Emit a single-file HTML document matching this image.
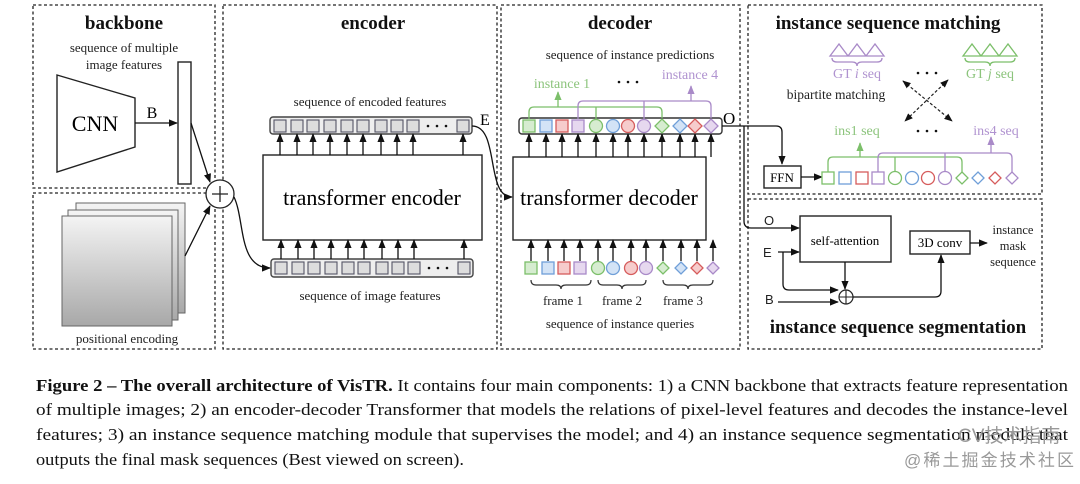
<!DOCTYPE html>
<html><head><meta charset="utf-8"><style>
html,body{margin:0;padding:0;background:#fff;}
svg{display:block;}
text{font-family:"Liberation Serif",serif;}
</style></head><body>
<svg width="1080" height="484" viewBox="0 0 1080 484" xmlns="http://www.w3.org/2000/svg">
<defs>
<marker id="a" viewBox="0 0 10 10" refX="9" refY="5" markerWidth="7" markerHeight="7" orient="auto-start-reverse"><path d="M0,1 L10,5 L0,9 z" fill="#111"/></marker>
<marker id="ag" viewBox="0 0 10 10" refX="9" refY="5" markerWidth="7" markerHeight="7" orient="auto"><path d="M0,1 L10,5 L0,9 z" fill="#7cbf6a"/></marker>
<marker id="ap" viewBox="0 0 10 10" refX="9" refY="5" markerWidth="7" markerHeight="7" orient="auto"><path d="M0,1 L10,5 L0,9 z" fill="#a98ac8"/></marker>
<linearGradient id="pg" x1="0" y1="0" x2="0" y2="1"><stop offset="0" stop-color="#f4f4f4"/><stop offset="1" stop-color="#a8a8a8"/></linearGradient>
</defs>
<g fill="none" stroke="#222" stroke-width="1.3" stroke-dasharray="3,2.5">
<rect x="33" y="5" width="182" height="183"/>
<rect x="33" y="193" width="182" height="156"/>
<rect x="223" y="5" width="274" height="344"/>
<rect x="501" y="5" width="239" height="344"/>
<rect x="748" y="5" width="294" height="189"/>
<rect x="748" y="199" width="294" height="150"/>
</g>
<g font-weight="bold" font-size="19" text-anchor="middle" fill="#111">
<text x="124" y="29">backbone</text>
<text x="373" y="29">encoder</text>
<text x="620" y="29">decoder</text>
<text x="888" y="29">instance sequence matching</text>
<text x="898" y="333">instance sequence segmentation</text>
</g>
<g font-size="13" text-anchor="middle" fill="#222">
<text x="124" y="52">sequence of multiple</text>
<text x="124" y="69">image features</text>
<text x="127" y="343">positional encoding</text>
<text x="370" y="106">sequence of encoded features</text>
<text x="370" y="300">sequence of image features</text>
<text x="630" y="59">sequence of instance predictions</text>
<text x="620" y="328">sequence of instance queries</text>
<text x="563" y="305">frame 1</text>
<text x="622" y="305">frame 2</text>
<text x="683" y="305">frame 3</text>
</g>
<path d="M57,75 L135,98 L135,147 L57,172 Z" fill="#fff" stroke="#222" stroke-width="1.4"/>
<text x="95" y="131" font-size="22" text-anchor="middle">CNN</text>
<text x="152" y="118" font-size="16" text-anchor="middle">B</text>
<line x1="135" y1="123" x2="177" y2="123" stroke="#111" stroke-width="1.3" marker-end="url(#a)"/>
<rect x="178" y="62" width="13" height="122" fill="#fff" stroke="#222" stroke-width="1.4"/>
<rect x="76" y="203" width="109" height="110" fill="url(#pg)" stroke="#666"/>
<rect x="68" y="210" width="110" height="110" fill="url(#pg)" stroke="#666"/>
<rect x="62" y="216" width="110" height="110" fill="url(#pg)" stroke="#666"/>
<circle cx="220" cy="194" r="14" fill="#fff" stroke="#222" stroke-width="1.3"/>
<path d="M212,194 H228 M220,186 V202" stroke="#222" stroke-width="1.3"/>
<line x1="191" y1="123" x2="210" y2="182" stroke="#111" stroke-width="1.3" marker-end="url(#a)"/>
<line x1="185" y1="256" x2="210" y2="206" stroke="#111" stroke-width="1.3" marker-end="url(#a)"/>
<path d="M234,197 C245,220 238,268 270,268" fill="none" stroke="#111" stroke-width="1.3" marker-end="url(#a)"/>
<rect x="270" y="117" width="202" height="17" rx="3" fill="#eee" stroke="#444" stroke-width="1.4"/>
<rect x="271" y="259" width="202" height="18" rx="3" fill="#eee" stroke="#444" stroke-width="1.4"/>
<rect x="263" y="155" width="219" height="85" fill="#fff" stroke="#222" stroke-width="1.4"/>
<text x="372" y="205" font-size="22" text-anchor="middle">transformer encoder</text>
<g fill="#ddd" stroke="#556" stroke-width="1.1">
<rect x="274" y="120" width="12" height="12"/><rect x="291" y="120" width="12" height="12"/><rect x="307" y="120" width="12" height="12"/><rect x="324" y="120" width="12" height="12"/><rect x="341" y="120" width="12" height="12"/><rect x="357" y="120" width="12" height="12"/><rect x="375" y="120" width="12" height="12"/><rect x="391" y="120" width="12" height="12"/><rect x="407" y="120" width="12" height="12"/><rect x="457" y="120" width="12" height="12"/>
<rect x="275" y="262" width="12" height="12"/><rect x="292" y="262" width="12" height="12"/><rect x="308" y="262" width="12" height="12"/><rect x="325" y="262" width="12" height="12"/><rect x="342" y="262" width="12" height="12"/><rect x="358" y="262" width="12" height="12"/><rect x="376" y="262" width="12" height="12"/><rect x="392" y="262" width="12" height="12"/><rect x="408" y="262" width="12" height="12"/><rect x="458" y="262" width="12" height="12"/>
</g>
<g fill="#111"><circle cx="428" cy="126" r="1.3"/><circle cx="437" cy="126" r="1.3"/><circle cx="446" cy="126" r="1.3"/><circle cx="429" cy="268" r="1.3"/><circle cx="438" cy="268" r="1.3"/><circle cx="447" cy="268" r="1.3"/></g>
<g stroke="#111" stroke-width="1.3" marker-end="url(#a)">
<line x1="280" y1="155" x2="280" y2="134"/><line x1="297" y1="155" x2="297" y2="134"/><line x1="313" y1="155" x2="313" y2="134"/><line x1="330" y1="155" x2="330" y2="134"/><line x1="347" y1="155" x2="347" y2="134"/><line x1="363" y1="155" x2="363" y2="134"/><line x1="381" y1="155" x2="381" y2="134"/><line x1="397" y1="155" x2="397" y2="134"/><line x1="413" y1="155" x2="413" y2="134"/><line x1="463" y1="155" x2="463" y2="134"/>
<line x1="281" y1="259" x2="281" y2="240"/><line x1="298" y1="259" x2="298" y2="240"/><line x1="314" y1="259" x2="314" y2="240"/><line x1="331" y1="259" x2="331" y2="240"/><line x1="348" y1="259" x2="348" y2="240"/><line x1="364" y1="259" x2="364" y2="240"/><line x1="382" y1="259" x2="382" y2="240"/><line x1="398" y1="259" x2="398" y2="240"/><line x1="414" y1="259" x2="414" y2="240"/><line x1="464" y1="259" x2="464" y2="240"/>
</g>
<text x="480" y="125" font-size="16">E</text>
<path d="M472,126 C500,126 485,197 512,197" fill="none" stroke="#111" stroke-width="1.3" marker-end="url(#a)"/>
<rect x="519" y="118" width="203" height="16" rx="3" fill="#fff" stroke="#333" stroke-width="1.4"/>
<rect x="513" y="157" width="193" height="83" fill="#fff" stroke="#222" stroke-width="1.4"/>
<text x="609" y="205" font-size="22" text-anchor="middle">transformer decoder</text>
<g stroke="#111" stroke-width="1.3" marker-end="url(#a)">
<line x1="529" y1="157" x2="529" y2="134"/><line x1="546" y1="157" x2="546" y2="134"/><line x1="562" y1="157" x2="562" y2="134"/><line x1="578" y1="157" x2="578" y2="134"/><line x1="596" y1="157" x2="596" y2="134"/><line x1="613" y1="157" x2="613" y2="134"/><line x1="628" y1="157" x2="628" y2="134"/><line x1="644" y1="157" x2="644" y2="134"/><line x1="662" y1="157" x2="662" y2="134"/><line x1="680" y1="157" x2="680" y2="134"/><line x1="695" y1="157" x2="695" y2="134"/><line x1="711" y1="157" x2="711" y2="134"/>
<line x1="531" y1="261" x2="531" y2="240"/><line x1="548" y1="261" x2="548" y2="240"/><line x1="564" y1="261" x2="564" y2="240"/><line x1="580" y1="261" x2="580" y2="240"/><line x1="598" y1="261" x2="598" y2="240"/><line x1="613" y1="261" x2="613" y2="240"/><line x1="631" y1="261" x2="631" y2="240"/><line x1="646" y1="261" x2="646" y2="240"/><line x1="663" y1="261" x2="663" y2="240"/><line x1="681" y1="261" x2="681" y2="240"/><line x1="697" y1="261" x2="697" y2="240"/><line x1="713" y1="261" x2="713" y2="240"/>
</g>
<g stroke-width="1.3">
<rect x="523" y="120" width="12" height="12" fill="#d6ecd0" stroke="#7cbf6a"/>
<rect x="540" y="120" width="12" height="12" fill="#d3e3f6" stroke="#6f9fd8"/>
<rect x="556" y="120" width="12" height="12" fill="#f6cccc" stroke="#d65c5c"/>
<rect x="572" y="120" width="12" height="12" fill="#e6d8ef" stroke="#a98ac8"/>
<circle cx="596" cy="126" r="6.5" fill="#d6ecd0" stroke="#7cbf6a"/>
<circle cx="613" cy="126" r="6.5" fill="#d3e3f6" stroke="#6f9fd8"/>
<circle cx="628" cy="126" r="6.5" fill="#f6cccc" stroke="#d65c5c"/>
<circle cx="644" cy="126" r="6.5" fill="#e6d8ef" stroke="#a98ac8"/>
<path d="M662,119 l7,7 l-7,7 l-7,-7z" fill="#d6ecd0" stroke="#7cbf6a"/>
<path d="M680,119 l7,7 l-7,7 l-7,-7z" fill="#d3e3f6" stroke="#6f9fd8"/>
<path d="M695,119 l7,7 l-7,7 l-7,-7z" fill="#f6cccc" stroke="#d65c5c"/>
<path d="M711,119 l7,7 l-7,7 l-7,-7z" fill="#e6d8ef" stroke="#a98ac8"/>
<rect x="525" y="262" width="12" height="12" fill="#d6ecd0" stroke="#7cbf6a"/>
<rect x="542" y="262" width="12" height="12" fill="#d3e3f6" stroke="#6f9fd8"/>
<rect x="558" y="262" width="12" height="12" fill="#f6cccc" stroke="#d65c5c"/>
<rect x="574" y="262" width="12" height="12" fill="#e6d8ef" stroke="#a98ac8"/>
<circle cx="598" cy="268" r="6.5" fill="#d6ecd0" stroke="#7cbf6a"/>
<circle cx="613" cy="268" r="6.5" fill="#d3e3f6" stroke="#6f9fd8"/>
<circle cx="631" cy="268" r="6.5" fill="#f6cccc" stroke="#d65c5c"/>
<circle cx="646" cy="268" r="6.5" fill="#e6d8ef" stroke="#a98ac8"/>
<path d="M663,262 l6,6 l-6,6 l-6,-6z" fill="#d6ecd0" stroke="#7cbf6a"/>
<path d="M681,262 l6,6 l-6,6 l-6,-6z" fill="#d3e3f6" stroke="#6f9fd8"/>
<path d="M697,262 l6,6 l-6,6 l-6,-6z" fill="#f6cccc" stroke="#d65c5c"/>
<path d="M713,262 l6,6 l-6,6 l-6,-6z" fill="#e6d8ef" stroke="#a98ac8"/>
</g>
<g fill="none" stroke="#333" stroke-width="1.2">
<path d="M531,280 q0,5 5,5 h20 q5,0 5,4 q0,-4 5,-4 h20 q5,0 5,-5"/>
<path d="M598,280 q0,5 5,5 h14 q5,0 5,4 q0,-4 5,-4 h14 q5,0 5,-5"/>
<path d="M663,280 q0,5 5,5 h15 q5,0 5,4 q0,-4 5,-4 h15 q5,0 5,-5"/>
</g>
<path d="M529,119 V112 q0,-5 5,-5 H657 q5,0 5,5 V118 M596,119 V107" fill="none" stroke="#7cbf6a" stroke-width="1.3"/>
<line x1="558" y1="107" x2="558" y2="92" stroke="#7cbf6a" stroke-width="1.3" marker-end="url(#ag)"/>
<path d="M578,119 V106 q0,-5 5,-5 H706 q5,0 5,5 V118 M644,119 V101" fill="none" stroke="#a98ac8" stroke-width="1.3"/>
<line x1="691" y1="101" x2="691" y2="86" stroke="#a98ac8" stroke-width="1.3" marker-end="url(#ap)"/>
<text x="562" y="88" font-size="14" text-anchor="middle" fill="#8cc47c">instance 1</text>
<text x="690" y="79" font-size="14" text-anchor="middle" fill="#b093d0">instance 4</text>
<g fill="#111"><circle cx="619" cy="82" r="1.3"/><circle cx="628" cy="82" r="1.3"/><circle cx="637" cy="82" r="1.3"/></g>
<text x="723" y="124" font-size="17">O</text>
<path d="M722,126 H776 q6,0 6,6 V164" fill="none" stroke="#111" stroke-width="1.3" marker-end="url(#a)"/>
<path d="M744,126 V221 q0,7 7,7 H799" fill="none" stroke="#111" stroke-width="1.3" marker-end="url(#a)"/>
<rect x="764" y="166" width="37" height="22" fill="#fff" stroke="#222" stroke-width="1.4"/>
<text x="782" y="182" font-size="13" text-anchor="middle">FFN</text>
<line x1="801" y1="177" x2="822" y2="177" stroke="#111" stroke-width="1.3" marker-end="url(#a)"/>
<g stroke-width="1.3" fill="#fff">
<rect x="822" y="172" width="12" height="12" stroke="#7cbf6a"/>
<rect x="839" y="172" width="12" height="12" stroke="#6f9fd8"/>
<rect x="856" y="172" width="12" height="12" stroke="#d65c5c"/>
<rect x="872" y="172" width="12" height="12" stroke="#a98ac8"/>
<circle cx="895" cy="178" r="6.5" stroke="#7cbf6a"/>
<circle cx="912" cy="178" r="6.5" stroke="#6f9fd8"/>
<circle cx="928" cy="178" r="6.5" stroke="#d65c5c"/>
<circle cx="945" cy="178" r="6.5" stroke="#a98ac8"/>
<path d="M962,172 l6,6 l-6,6 l-6,-6z" stroke="#7cbf6a"/>
<path d="M978,172 l6,6 l-6,6 l-6,-6z" stroke="#6f9fd8"/>
<path d="M995,172 l6,6 l-6,6 l-6,-6z" stroke="#d65c5c"/>
<path d="M1012,172 l6,6 l-6,6 l-6,-6z" stroke="#a98ac8"/>
</g>
<path d="M828,172 V162 q0,-5 5,-5 H957 q5,0 5,5 V172 M895,171 V157" fill="none" stroke="#7cbf6a" stroke-width="1.3"/>
<line x1="860" y1="157" x2="860" y2="143" stroke="#7cbf6a" stroke-width="1.3" marker-end="url(#ag)"/>
<path d="M878,172 V158 q0,-5 5,-5 H1007 q5,0 5,5 V172 M945,171 V153" fill="none" stroke="#a98ac8" stroke-width="1.3"/>
<line x1="991" y1="153" x2="991" y2="137" stroke="#a98ac8" stroke-width="1.3" marker-end="url(#ap)"/>
<text x="857" y="135" font-size="14" text-anchor="middle" fill="#8cc47c">ins1 seq</text>
<text x="996" y="135" font-size="14" text-anchor="middle" fill="#b093d0">ins4 seq</text>
<g fill="none" stroke-width="1.3">
<path d="M830,56 l9,-12 l9,12z M848,56 l9,-12 l9,12z M866,56 l9,-12 l9,12z" stroke="#a98ac8"/>
<path d="M832,58 q0,4 5,4 h15 q5,0 5,4 q0,-4 5,-4 h15 q5,0 5,-4" stroke="#a98ac8"/>
<path d="M963,56 l9,-12 l9,12z M981,56 l9,-12 l9,12z M999,56 l9,-12 l9,12z" stroke="#7cbf6a"/>
<path d="M965,58 q0,4 5,4 h15 q5,0 5,4 q0,-4 5,-4 h15 q5,0 5,-4" stroke="#7cbf6a"/>
</g>
<text x="857" y="78" font-size="14" text-anchor="middle" fill="#b093d0">GT <tspan font-style="italic">i</tspan>  seq</text>
<text x="990" y="78" font-size="14" text-anchor="middle" fill="#8cc47c">GT <tspan font-style="italic">j</tspan> seq</text>
<text x="836" y="99" font-size="13.5" text-anchor="middle" fill="#222">bipartite matching</text>
<g stroke="#222" stroke-width="1.2" stroke-dasharray="3,2" marker-end="url(#a)" marker-start="url(#a)">
<line x1="903" y1="81" x2="952" y2="121"/>
<line x1="948" y1="80" x2="905" y2="121"/>
</g>
<g fill="#111"><circle cx="918" cy="73" r="1.3"/><circle cx="927" cy="73" r="1.3"/><circle cx="936" cy="73" r="1.3"/><circle cx="918" cy="131" r="1.3"/><circle cx="927" cy="131" r="1.3"/><circle cx="936" cy="131" r="1.3"/></g>
<g font-size="13" fill="#222">
<text x="764" y="225" style="font-family:'Liberation Sans',sans-serif">O</text>
<text x="763" y="257" style="font-family:'Liberation Sans',sans-serif">E</text>
<text x="765" y="304" style="font-family:'Liberation Sans',sans-serif">B</text>
</g>
<rect x="800" y="216" width="91" height="46" fill="#fff" stroke="#222" stroke-width="1.4"/>
<text x="845" y="245" font-size="13" text-anchor="middle">self-attention</text>
<rect x="910" y="231" width="60" height="23" fill="#fff" stroke="#222" stroke-width="1.4"/>
<text x="940" y="247" font-size="13" text-anchor="middle">3D conv</text>
<line x1="970" y1="243" x2="987" y2="243" stroke="#111" stroke-width="1.3" marker-end="url(#a)"/>
<g font-size="12.5" text-anchor="middle" fill="#222"><text x="1013" y="234">instance</text><text x="1013" y="250">mask</text><text x="1013" y="266">sequence</text></g>
<path d="M778,252 H799" stroke="#111" stroke-width="1.3" marker-end="url(#a)"/>
<path d="M783,252 V284 q0,6 6,6 H838" fill="none" stroke="#111" stroke-width="1.3" marker-end="url(#a)"/>
<path d="M778,302 H838" stroke="#111" stroke-width="1.3" marker-end="url(#a)"/>
<line x1="845" y1="262" x2="845" y2="289" stroke="#111" stroke-width="1.3" marker-end="url(#a)"/>
<circle cx="846" cy="297" r="7" fill="#fff" stroke="#222" stroke-width="1.2"/>
<path d="M839,297 H853 M846,290 V304" stroke="#222" stroke-width="1.1"/>
<path d="M853,297 H935 q6,0 6,-6 V255" fill="none" stroke="#111" stroke-width="1.3" marker-end="url(#a)"/>
<g font-size="17" fill="#111">
<text x="36" y="391" textLength="1032" lengthAdjust="spacingAndGlyphs"><tspan font-weight="bold">Figure 2 – The overall architecture of VisTR.</tspan> It contains four main components: 1) a CNN backbone that extracts feature representation</text>
<text x="36" y="415" textLength="1032" lengthAdjust="spacingAndGlyphs">of multiple images; 2) an encoder-decoder Transformer that models the relations of pixel-level features and decodes the instance-level</text>
<text x="36" y="440" textLength="1032" lengthAdjust="spacingAndGlyphs">features; 3) an instance sequence matching module that supervises the model; and 4) an instance sequence segmentation module that</text>
<text x="36" y="465" textLength="428" lengthAdjust="spacingAndGlyphs">outputs the final mask sequences (Best viewed on screen).</text>
</g>
<g fill="#999">
<text x="958" y="442" font-size="19" style="font-family:'Liberation Sans','Noto Sans CJK SC',sans-serif">CV技术指南</text>
<text x="904" y="466" font-size="17" textLength="170" style="font-family:'Liberation Sans','Noto Sans CJK SC',sans-serif">@稀土掘金技术社区</text>
</g>
</svg>
</body></html>
